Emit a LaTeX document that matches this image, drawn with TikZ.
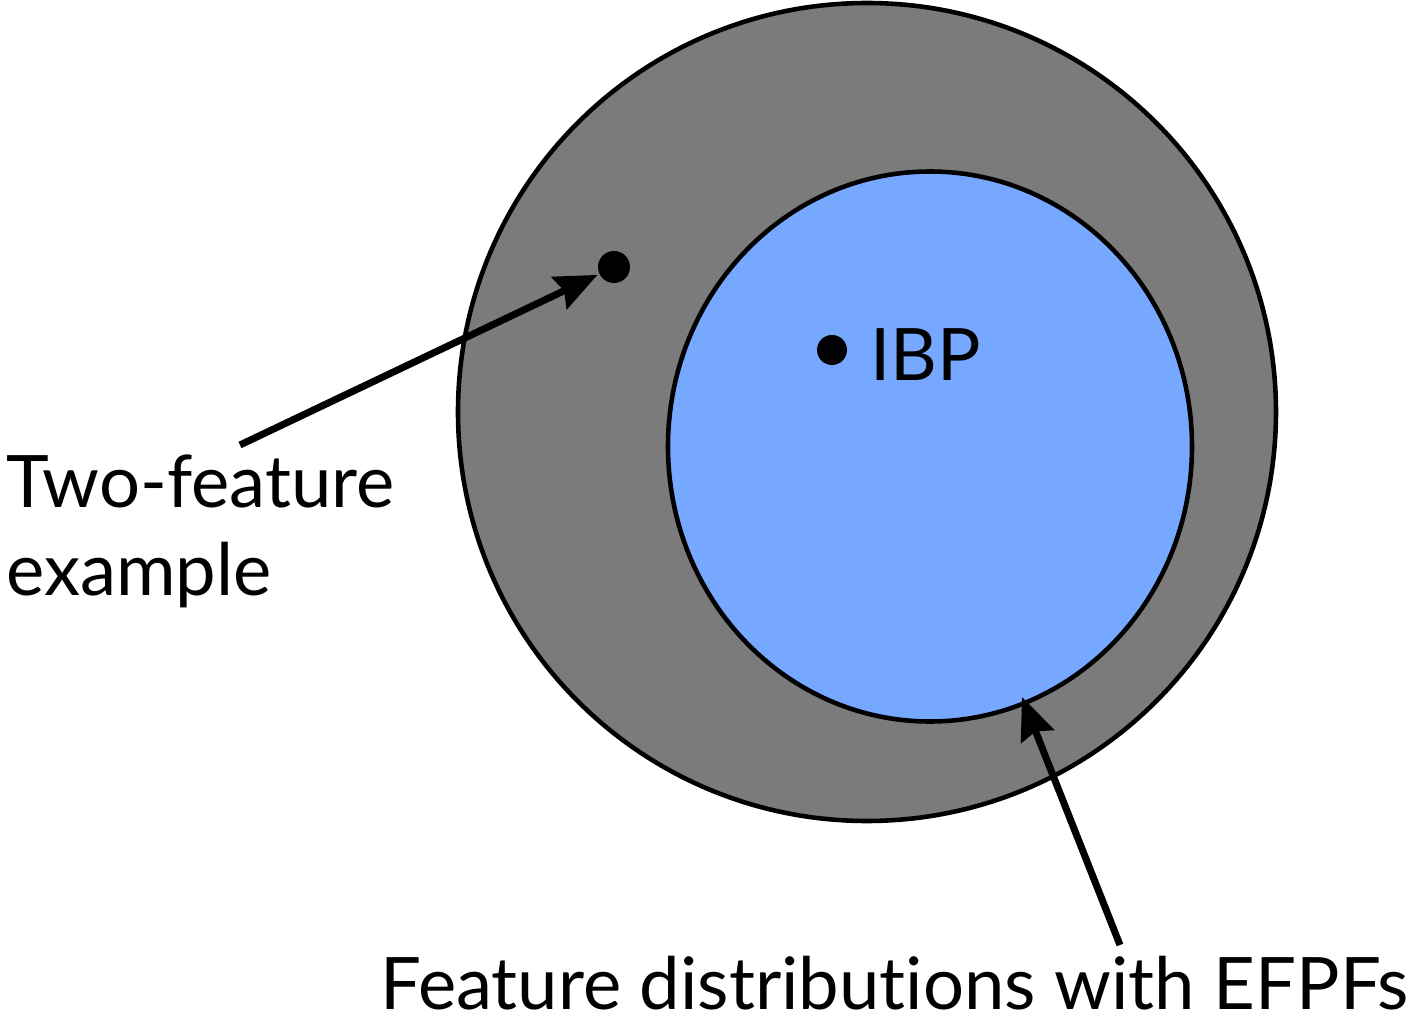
\documentclass[tikz,border=0pt]{standalone}
\usepackage{fontspec}
\setmainfont[Ligatures=NoCommon]{Lato}
\usetikzlibrary{arrows.meta,shapes.geometric}

\definecolor{ringgray}{RGB}{123,123,123}
\definecolor{ibpblue}{RGB}{118,168,255}

\tikzset{
  label text/.style = {font=\fontsize{20.6}{25}\selectfont, inner sep=0pt},
  point/.style = {circle, fill=black, inner sep=0pt},
  pointer/.style = {-{Stealth[length=12pt, width=10pt, inset=1.5pt]}, line width=2pt},
}

\begin{document}
\begin{tikzpicture}[line width=1.3pt]
    \useasboundingbox (0,0) rectangle (14.13,10.21);
    % the two sets
    \node[circle, draw, fill=ringgray, minimum size=8.18cm] (outer) at (8.67,6.09) {};
    \node[ellipse, draw, fill=ibpblue, minimum width=5.24cm, minimum height=5.50cm,
          inner sep=0pt] (inner) at (9.30,5.745) {};
    % the two points
    \node[point, minimum size=0.32cm] (twofeat) at (6.14,7.54) {};
    \node[point, minimum size=0.30cm] (ibp) at (8.32,6.71) {};
    \node[label text, anchor=west] (ibplabel) at (8.68,6.66) {IBP};
    % labels
    \node[label text, anchor=north west, align=left] (twolabel) at (0.04,5.68)
        {Two-feature\\example};
    \node[label text, anchor=base east] (efpflabel) at (14.11,0.11)
        {Feature distributions with EFPFs};
    \coordinate (twotail) at (2.40,5.76);
    \coordinate (efpftail) at (11.20,0.76);
    \coordinate (efpftip) at (10.22,3.24);
    \draw[pointer] (twotail) -- (twofeat);
    \draw[pointer] (efpftail) -- (efpftip);
\end{tikzpicture}
\end{document}
